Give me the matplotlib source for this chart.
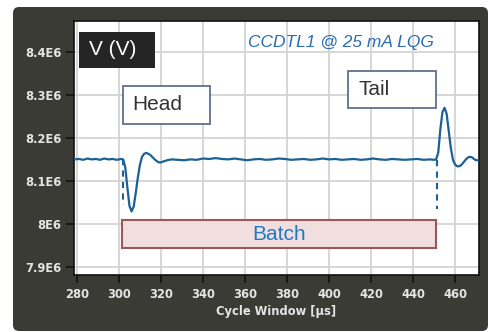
import matplotlib
matplotlib.use("Agg")
import matplotlib.pyplot as plt
import matplotlib.patches as mpatches

# time axis (us) and cavity voltage (in units of 1E6 V)
t = [278.6, 281, 283, 285, 287, 289, 291, 293, 295, 297, 299, 301, 302,
     303, 304, 305, 306, 307, 308, 309, 310, 311, 312, 313, 314, 315, 316,
     317, 318, 319, 320, 321, 323, 325, 328, 331, 334, 337, 340, 343, 346,
     349, 352, 355, 358, 361, 364, 367, 370, 373, 376, 379, 382, 385, 388,
     391, 394, 397, 400, 403, 406, 409, 412, 415, 418, 421, 424, 427, 430,
     433, 436, 439, 442, 445, 448, 450, 451, 452, 453, 454, 455, 456, 457,
     458, 459, 460, 461, 462, 463, 464, 465, 466, 467, 468, 469, 470, 471.4]
v = [8.150, 8.151, 8.149, 8.152, 8.150, 8.151, 8.149, 8.152, 8.150, 8.151, 8.149, 8.151, 8.150,
     8.132, 8.085, 8.042, 8.029, 8.040, 8.072, 8.108, 8.138, 8.156, 8.163, 8.165, 8.163, 8.160, 8.155,
     8.150, 8.146, 8.143, 8.143, 8.145, 8.148, 8.150, 8.149, 8.148, 8.150, 8.149, 8.152, 8.151, 8.153,
     8.151, 8.150, 8.152, 8.150, 8.148, 8.150, 8.151, 8.149, 8.150, 8.152, 8.151, 8.149, 8.150, 8.151,
     8.149, 8.150, 8.152, 8.150, 8.151, 8.149, 8.150, 8.151, 8.149, 8.150, 8.152, 8.150, 8.149, 8.151,
     8.150, 8.149, 8.150, 8.151, 8.149, 8.150, 8.149, 8.150, 8.166, 8.220, 8.260, 8.270, 8.256, 8.216,
     8.176, 8.149, 8.138, 8.134, 8.134, 8.137, 8.143, 8.149, 8.154, 8.156, 8.155, 8.151, 8.148, 8.148]

xticks = [280, 300, 320, 340, 360, 380, 400, 420, 440, 460]
yticks = [7.9, 8.0, 8.1, 8.2, 8.3, 8.4]
ytick_labels = ["7.9E6", "8E6", "8.1E6", "8.2E6", "8.3E6", "8.4E6"]

head_mark = [302.0, 8.150, 8.044]
tail_mark = [451.3, 8.149, 8.035]
batch = [301.6, 451.0, 7.943, 8.009]

dark = "#3b3b36"
line_c = "#1c6194"

fig = plt.figure(figsize=(4.88, 3.32), dpi=100)
fig.patch.set_facecolor("white")
panel = mpatches.FancyBboxPatch((13, 1), 475, 324, boxstyle="round,pad=0,rounding_size=6",
                                transform=None, facecolor=dark, edgecolor="none", zorder=-10)
fig.patches.append(panel)

ax = fig.add_axes([74 / 488, 1 - 275 / 332, 405 / 488, 254 / 332])
ax.set_zorder(1)
ax.set_facecolor("white")
ax.set_xlim(278.6, 471.4)
ax.set_ylim(7.881, 8.472)
ax.set_xticks(xticks)
ax.set_yticks(yticks)
ax.set_yticklabels(ytick_labels)
ax.grid(True, color="#d3d3d3", lw=1.3)
ax.set_axisbelow(True)
for s in ax.spines.values():
    s.set_color("#111111")
    s.set_linewidth(1.2)
ax.tick_params(direction="out", length=6, width=1.2, color="#111111",
               labelcolor="#e4e4e4", labelsize=8.3, pad=3)
for lab in ax.get_xticklabels() + ax.get_yticklabels():
    lab.set_fontweight("bold")
ax.set_xlabel("Cycle Window [\u03bcs]", color="#e4e4e4", fontsize=8.3,
              fontweight="bold", labelpad=3)

ax.plot(t, v, color=line_c, lw=1.6, zorder=3)
ax.plot([head_mark[0]] * 2, head_mark[1:], color=line_c, lw=1.5, ls=(0, (3, 2.5)), zorder=3)
ax.plot([tail_mark[0]] * 2, tail_mark[1:], color=line_c, lw=1.5, ls=(0, (3, 2.5)), zorder=3)

# batch bar
ax.add_patch(mpatches.Rectangle((batch[0], batch[2]), batch[1] - batch[0], batch[3] - batch[2],
                                facecolor="#f1dfdf", edgecolor="#9c5858", lw=1.5, zorder=4))
ax.text((batch[0] + batch[1]) / 2, (batch[2] + batch[3]) / 2, "Batch", color="#1f7ac6",
        fontsize=15, family="Liberation Sans", ha="center", va="center", zorder=5)

# label boxes
ax.add_patch(mpatches.Rectangle((281.0, 8.3628), 36.2, 0.0837, facecolor="#252525",
                                edgecolor="none", zorder=4))
ax.text(285.6, 8.405, "V (V)", color="white", fontsize=15, family="Liberation Sans",
        ha="left", va="center", zorder=5)
ax.add_patch(mpatches.Rectangle((301.8, 8.2326), 41.6, 0.0884, facecolor="white",
                                edgecolor="#60708a", lw=1.3, zorder=4))
ax.text(306.5, 8.277, "Head", color="#333333", fontsize=15, family="Liberation Sans",
        ha="left", va="center", zorder=5)
ax.add_patch(mpatches.Rectangle((409.1, 8.270), 41.7, 0.086, facecolor="white",
                                edgecolor="#60708a", lw=1.3, zorder=4))
ax.text(413.8, 8.313, "Tail", color="#333333", fontsize=15, family="Liberation Sans",
        ha="left", va="center", zorder=5)
ax.text(405.7, 8.423, "CCDTL1 @ 25 mA LQG", color="#2a6db2", fontsize=12.5,
        family="Liberation Sans", style="italic", ha="center", va="center", zorder=5)

fig.savefig("out.png", dpi=100, facecolor=fig.get_facecolor())
